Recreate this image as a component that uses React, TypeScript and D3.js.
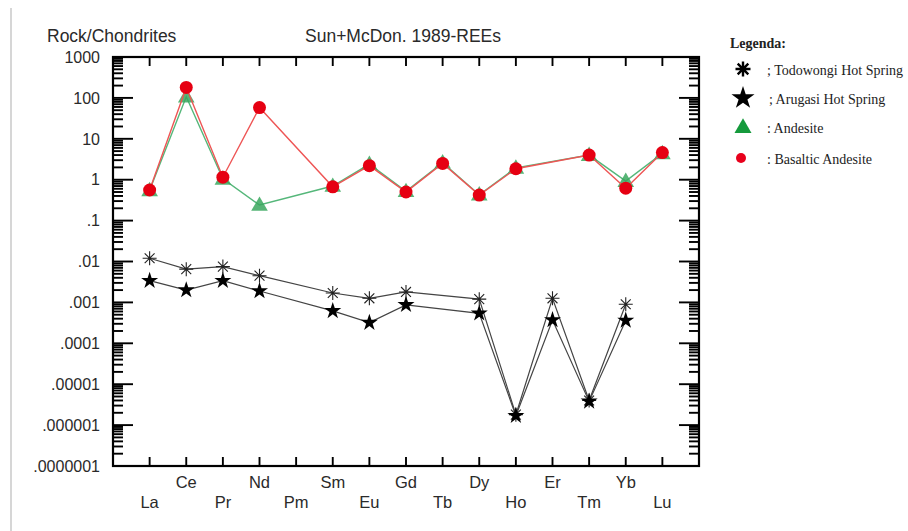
import React, { useEffect, useRef } from "react";
import * as d3 from "d3";

// REE elements on the x axis
const elements = ["La", "Ce", "Pr", "Nd", "Pm", "Sm", "Eu", "Gd", "Tb", "Dy", "Ho", "Er", "Tm", "Yb", "Lu"];

// rock / chondrite values (null = not measured)
const todowongi = [0.012, 0.0065, 0.0075, 0.0045, null, 0.0017, 0.00126, 0.0018, null, 0.0012, 0.0000018, 0.00126, 0.000004, 0.0009, null];
const arugasi = [0.0034, 0.002, 0.0034, 0.0019, null, 0.00062, 0.00032, 0.00087, null, 0.00054, 0.0000017, 0.00037, 0.0000038, 0.00036, null];
const andesite = [0.55, 107, 1.05, 0.24, null, 0.7, 2.4, 0.52, 2.6, 0.43, 1.95, null, 4.0, 0.92, 4.4];
const basalticAndesite = [0.56, 180, 1.15, 58, null, 0.67, 2.2, 0.5, 2.5, 0.42, 1.85, null, 4.0, 0.62, 4.6];

const yTickLabels = [".0000001", ".000001", ".00001", ".0001", ".001", ".01", ".1", "1", "10", "100", "1000"];

const legendItems = [
  { label: "; Todowongi Hot Spring", kind: "asterisk" },
  { label: "; Arugasi Hot Spring", kind: "star" },
  { label: ": Andesite", kind: "triangle" },
  { label: ": Basaltic Andesite", kind: "circle" },
];

const sans = "'Liberation Sans', Arial, sans-serif";
const serif = "'Liberation Serif', 'Times New Roman', serif";

const asteriskPath = (r: number) => {
  const d = r * Math.SQRT1_2;
  return `M0,${-r}V${r}M${-r},0H${r}M${-d},${-d}L${d},${d}M${-d},${d}L${d},${-d}`;
};

const App = () => {
  const ref = useRef<SVGSVGElement | null>(null);

  useEffect(() => {
    const svg = d3.select(ref.current);
    svg.selectAll("*").remove();

    const x = d3.scaleLinear().domain([-1, elements.length]).range([113, 699]);
    const y = d3.scaleLog().domain([1e-7, 1e3]).range([466, 57]);

    // page edge line
    svg.append("line").attr("x1", 11).attr("x2", 11).attr("y1", 8).attr("y2", 531)
      .attr("stroke", "#c8c8c8").attr("stroke-width", 1.5);

    // titles
    svg.append("text").attr("x", 47).attr("y", 42).attr("font-family", sans)
      .attr("font-size", 17.5).attr("fill", "#2a2a2a").text("Rock/Chondrites");
    svg.append("text").attr("x", 305).attr("y", 42).attr("font-family", sans)
      .attr("font-size", 17.5).attr("fill", "#2a2a2a").text("Sun+McDon. 1989-REEs");

    // log ticks on both sides
    const [x0, x1] = x.range();
    const ticks = svg.append("g").attr("stroke", "#000").attr("stroke-width", 1.9);
    for (let e = -7; e <= 2; e++) {
      for (let k = 1; k <= 9; k++) {
        const v = k * Math.pow(10, e);
        const len = k === 1 ? 20 : 10;
        ticks.append("line").attr("x1", x0).attr("x2", x0 + len).attr("y1", y(v)).attr("y2", y(v));
        ticks.append("line").attr("x1", x1).attr("x2", x1 - len).attr("y1", y(v)).attr("y2", y(v));
      }
    }
    elements.forEach((_, i) => {
      ticks.append("line").attr("x1", x(i)).attr("x2", x(i)).attr("y1", y(1e3)).attr("y2", y(1e3) + 9);
      ticks.append("line").attr("x1", x(i)).attr("x2", x(i)).attr("y1", y(1e-7)).attr("y2", y(1e-7) - 9);
    });

    // frame
    svg.append("rect").attr("x", x0).attr("y", y(1e3)).attr("width", x1 - x0)
      .attr("height", y(1e-7) - y(1e3)).attr("fill", "none").attr("stroke", "#000").attr("stroke-width", 2.2);

    // y tick labels
    yTickLabels.forEach((t, i) => {
      svg.append("text").attr("x", 100).attr("y", y(Math.pow(10, i - 7))).attr("dy", "0.36em")
        .attr("text-anchor", "end").attr("font-family", sans).attr("font-size", 16)
        .attr("fill", "#2a2a2a").text(t);
    });

    // x labels, staggered
    elements.forEach((el, i) => {
      svg.append("text").attr("x", x(i)).attr("y", i % 2 === 1 ? 488 : 508)
        .attr("text-anchor", "middle").attr("font-family", sans).attr("font-size", 16.5)
        .attr("fill", "#2a2a2a").text(el);
    });

    const pts = (vals: (number | null)[]) =>
      vals.map((v, i) => [i, v] as [number, number | null]).filter((d) => d[1] != null) as [number, number][];
    const line = d3.line<[number, number]>().x((d) => x(d[0])).y((d) => y(d[1]));

    // black series
    [todowongi, arugasi].forEach((s) => {
      svg.append("path").datum(pts(s)).attr("fill", "none").attr("stroke", "#444")
        .attr("stroke-width", 1.2).attr("d", line);
    });
    svg.append("g").selectAll("path").data(pts(todowongi)).join("path")
      .attr("transform", (d) => `translate(${x(d[0])},${y(d[1])})`)
      .attr("d", asteriskPath(7)).attr("stroke", "#222").attr("stroke-width", 1.1).attr("fill", "none");
    svg.append("g").selectAll("path").data(pts(arugasi)).join("path")
      .attr("transform", (d) => `translate(${x(d[0])},${y(d[1])})`)
      .attr("d", d3.symbol(d3.symbolStar, 90)()).attr("fill", "#000");

    // andesite
    svg.append("path").datum(pts(andesite)).attr("fill", "none").attr("stroke", "#55b77a")
      .attr("stroke-width", 1.4).attr("d", line);
    svg.append("g").selectAll("path").data(pts(andesite)).join("path")
      .attr("transform", (d) => `translate(${x(d[0])},${y(d[1]) + 1})`)
      .attr("d", d3.symbol(d3.symbolTriangle, 120)()).attr("fill", "#3aa75e").attr("fill-opacity", 0.85);

    // basaltic andesite
    svg.append("path").datum(pts(basalticAndesite)).attr("fill", "none").attr("stroke", "#ee5555")
      .attr("stroke-width", 1.4).attr("d", line);
    svg.append("g").selectAll("circle").data(pts(basalticAndesite)).join("circle")
      .attr("cx", (d) => x(d[0])).attr("cy", (d) => y(d[1])).attr("r", 6.5).attr("fill", "#e60012");

    // legend
    const lg = svg.append("g");
    lg.append("text").attr("x", 730).attr("y", 48).attr("font-family", serif).attr("font-size", 14)
      .attr("font-weight", "bold").attr("fill", "#222").text("Legenda:");
    const rowY = [69, 98, 128, 158];
    const textY = [75, 104, 133, 164];
    legendItems.forEach((it, i) => {
      const g = lg.append("g").attr("transform", `translate(743,${rowY[i]})`);
      if (it.kind === "asterisk") g.append("path").attr("d", asteriskPath(7.5)).attr("stroke", "#000").attr("stroke-width", 2.4);
      if (it.kind === "star") g.append("path").attr("d", d3.symbol(d3.symbolStar, 165)()).attr("fill", "#000");
      if (it.kind === "triangle") g.append("path").attr("d", d3.symbol(d3.symbolTriangle, 125)()).attr("fill", "#159a3c");
      if (it.kind === "circle") g.append("circle").attr("cx", -2).attr("r", 5).attr("fill", "#e8001c");
      lg.append("text").attr("x", i === 1 ? 769 : 767).attr("y", textY[i]).attr("font-family", serif)
        .attr("font-size", 14).attr("fill", "#222").text(it.label);
    });
  }, []);

  return (
    <svg ref={ref} width={908} height={531}
      style={{ position: "absolute", left: 0, top: 0, background: "#fff" }} />
  );
};

export default App;
